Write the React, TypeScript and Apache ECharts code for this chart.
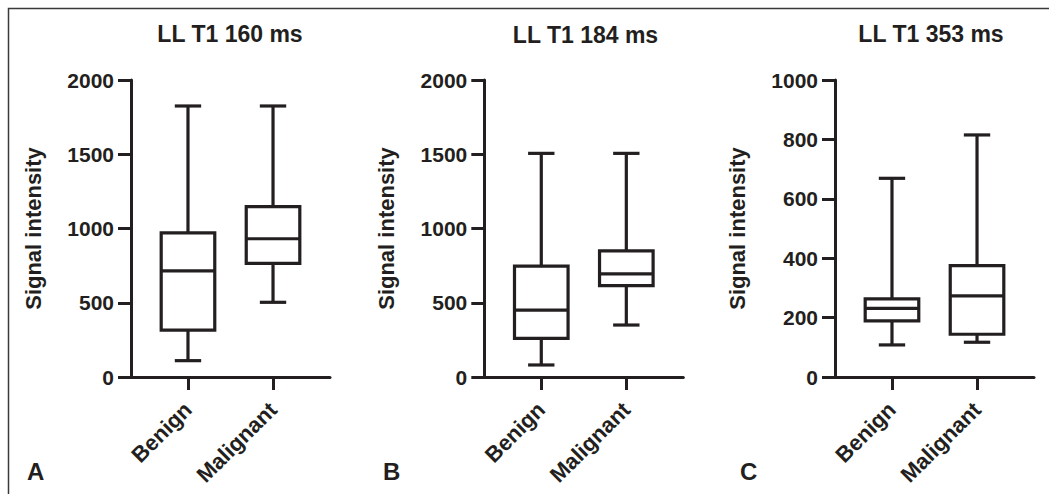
import React, { useEffect, useRef } from "react";
import * as echarts from "echarts";

// ---- data ----
const categories = ["Benign", "Malignant"];
const titles = ["LL T1 160 ms", "LL T1 184 ms", "LL T1 353 ms"];
const panelLetters = ["A", "B", "C"];

// [min, Q1, median, Q3, max]
const benign160 = [110, 316, 714, 970, 1825];
const malignant160 = [503, 765, 931, 1147, 1825];
const benign184 = [81, 260, 451, 747, 1506];
const malignant184 = [350, 615, 694, 850, 1506];
const benign353 = [108, 189, 231, 263, 669];
const malignant353 = [117, 144, 273, 375, 815];

const yMax = [2000, 2000, 1000];
const yInterval = [500, 500, 200];

const panelData = [
  [benign160, malignant160],
  [benign184, malignant184],
  [benign353, malignant353],
];

// ---- layout ----
const INK = "#231f20";
const FONT = "Liberation Sans";
const axisLeft = [131, 484.3, 835];
const titleX = [230, 585.5, 931];
const titleY = [33.5, 34.5, 33.5];
const letterX = [27, 383, 740];
const BOX_W = 0.63;
const CAP_W = 0.31;

const renderBox = (params: any, api: any) => {
  const x = api.value(0);
  const pts = [1, 2, 3, 4, 5].map((d) => api.coord([x, api.value(d)]));
  const cx = pts[0][0];
  const bw = api.size([BOX_W, 0])[0];
  const cw = api.size([CAP_W, 0])[0];
  const st = { stroke: INK, lineWidth: 3.2, fill: "none" };
  return {
    type: "group",
    children: [
      { type: "line", shape: { x1: cx, y1: pts[4][1], x2: cx, y2: pts[3][1] }, style: st },
      { type: "line", shape: { x1: cx, y1: pts[1][1], x2: cx, y2: pts[0][1] }, style: st },
      { type: "line", shape: { x1: cx - cw / 2, y1: pts[4][1], x2: cx + cw / 2, y2: pts[4][1] }, style: st },
      { type: "line", shape: { x1: cx - cw / 2, y1: pts[0][1], x2: cx + cw / 2, y2: pts[0][1] }, style: st },
      {
        type: "rect",
        shape: { x: cx - bw / 2, y: pts[3][1], width: bw, height: pts[1][1] - pts[3][1] },
        style: { stroke: INK, lineWidth: 3.2, fill: "#ffffff" },
      },
      { type: "line", shape: { x1: cx - bw / 2, y1: pts[2][1], x2: cx + bw / 2, y2: pts[2][1] }, style: st },
    ],
  };
};

export default function App() {
  const ref = useRef<HTMLDivElement>(null);
  useEffect(() => {
    document.body.style.margin = "0";
    const chart = echarts.init(ref.current!, null, { renderer: "svg" });
    const grids = axisLeft.map((l) => ({ left: l, top: 80, width: 199, height: 297 }));
    const xAxes = axisLeft.map((_, i) => ({
      type: "value",
      gridIndex: i,
      min: -0.67,
      max: 1.67,
      splitLine: { show: false },
      axisLine: { show: true, onZero: false, lineStyle: { color: INK, width: 3 } },
      axisTick: { show: true, customValues: [0, 1], length: 13, lineStyle: { color: INK, width: 3 } },
      axisLabel: {
        customValues: [0, 1],
        formatter: (v: number) => categories[Math.round(v)] ?? "",
        rotate: 45,
        margin: 29,
        color: INK,
        fontSize: 22,
        fontWeight: "bold",
        fontFamily: FONT,
      },
    }));
    const yAxes = axisLeft.map((_, i) => ({
      type: "value",
      gridIndex: i,
      min: 0,
      max: yMax[i],
      interval: yInterval[i],
      name: "Signal intensity",
      nameLocation: "middle",
      nameRotate: 90,
      nameGap: 87,
      nameTextStyle: { color: INK, fontSize: 22, fontWeight: "bold", fontFamily: FONT },
      splitLine: { show: false },
      axisLine: { show: true, onZero: false, lineStyle: { color: INK, width: 3 } },
      axisTick: { show: true, length: 13, lineStyle: { color: INK, width: 3 } },
      axisLabel: {
        margin: 17,
        color: INK,
        fontSize: 21,
        fontWeight: "bold",
        fontFamily: FONT,
        formatter: (v: number) => String(v),
      },
    }));
    const series = panelData.map((pd, i) => ({
      type: "custom",
      xAxisIndex: i,
      yAxisIndex: i,
      renderItem: renderBox,
      encode: { x: 0, y: [1, 2, 3, 4, 5] },
      data: pd.map((vals, k) => [k, ...vals]),
      silent: true,
    }));
    const graphic: any[] = [
      {
        type: "rect",
        shape: { x: 8.5, y: 8.5, width: 1100, height: 600 },
        style: { fill: "none", stroke: "#3a3a3a", lineWidth: 1.5 },
        silent: true,
      },
    ];
    titles.forEach((t, i) => {
      graphic.push({
        type: "text",
        x: titleX[i],
        y: titleY[i],
        style: {
          text: t,
          fill: INK,
          font: `bold 23px "${FONT}"`,
          textAlign: "center",
          textVerticalAlign: "middle",
        },
      });
    });
    panelLetters.forEach((t, i) => {
      graphic.push({
        type: "text",
        x: letterX[i],
        y: 471,
        style: {
          text: t,
          fill: INK,
          font: `bold 24px "${FONT}"`,
          textAlign: "left",
          textVerticalAlign: "middle",
        },
      });
    });
    chart.setOption({
      animation: false,
      backgroundColor: "#ffffff",
      grid: grids,
      xAxis: xAxes,
      yAxis: yAxes,
      series,
      graphic,
    });
    return () => chart.dispose();
  }, []);
  return <div ref={ref} style={{ width: 1049, height: 494 }} />;
}
